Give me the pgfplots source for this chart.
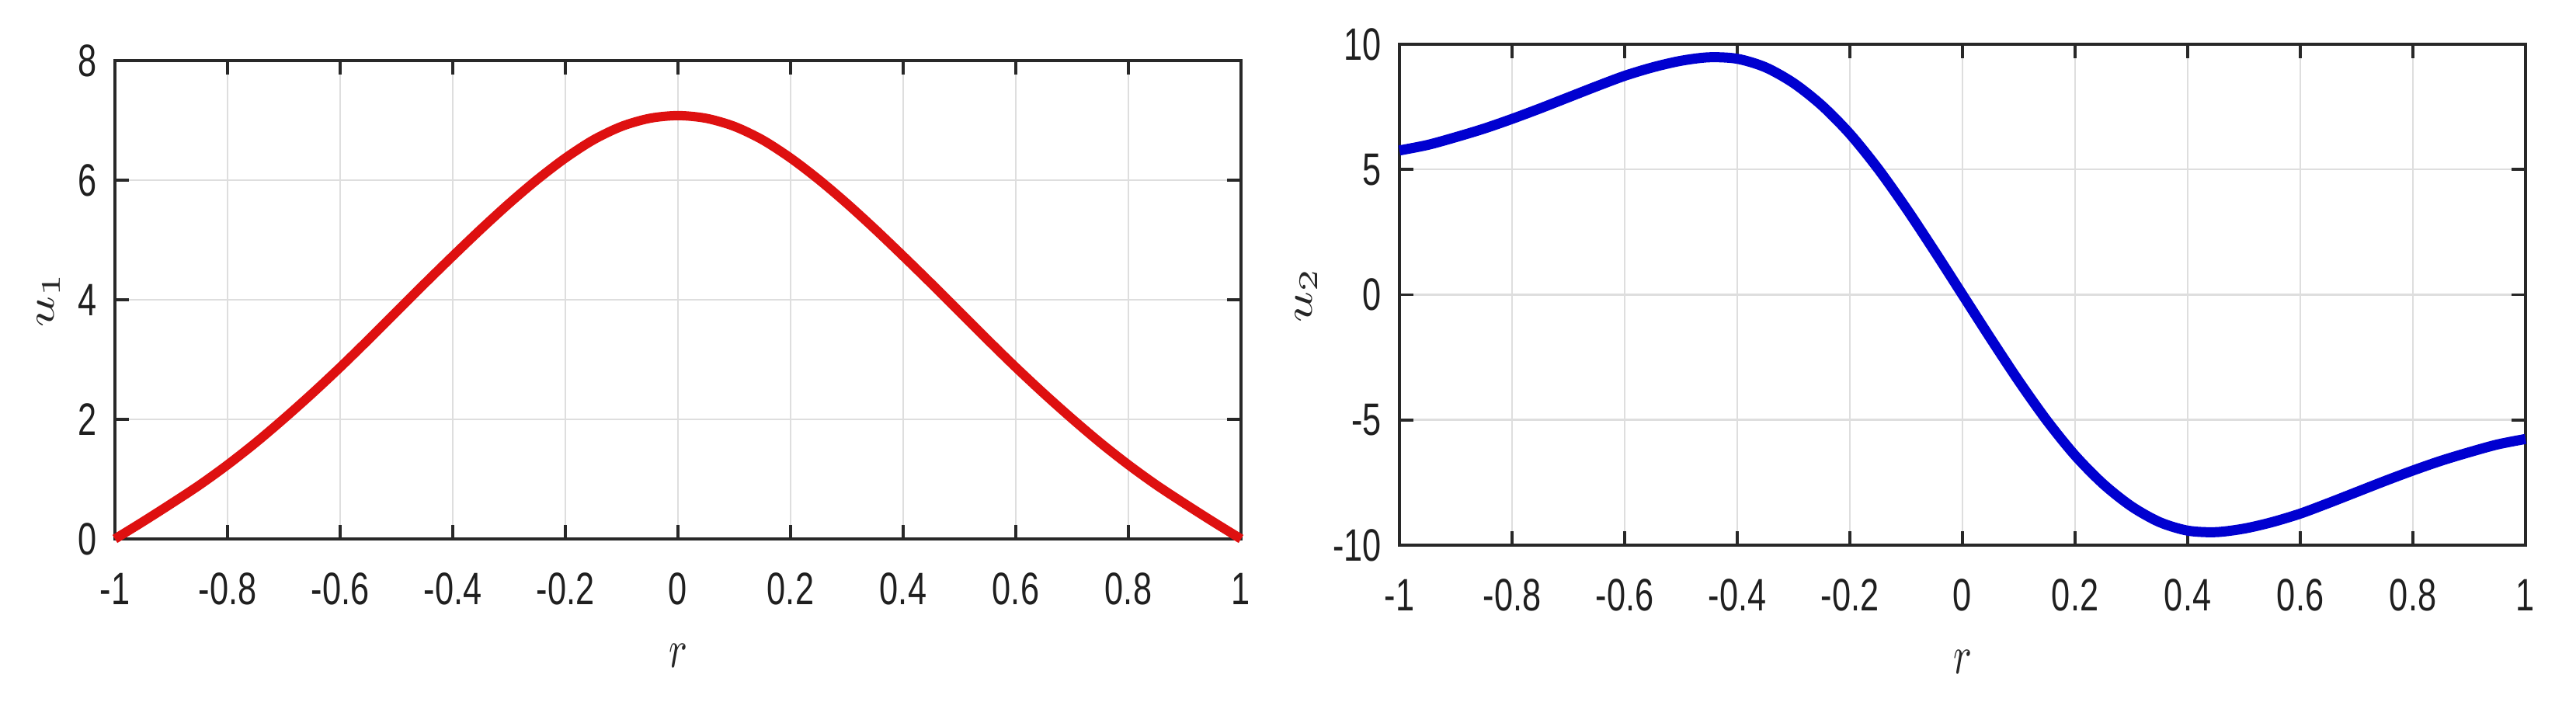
\documentclass[border=0pt]{standalone}
\usepackage{fontspec}
\usepackage{graphicx}
\usepackage{pgfplots}
\pgfplotsset{compat=1.18}
% tick numbers: Arial-like, stretched tall as in the reference
\newfontfamily\tickfont[FakeStretch=0.74]{Liberation Sans}
\definecolor{ured}{RGB}{222,16,16}
\definecolor{ublue}{RGB}{0,0,208}
\definecolor{axgray}{RGB}{40,40,40}

\pgfplotstableread{
x u1
-1.00 0.00
-0.95 0.29
-0.90 0.59
-0.85 0.90
-0.80 1.24
-0.75 1.61
-0.70 2.01
-0.65 2.43
-0.60 2.87
-0.55 3.33
-0.50 3.80
-0.45 4.27
-0.40 4.73
-0.35 5.18
-0.30 5.61
-0.25 6.01
-0.20 6.37
-0.15 6.675
-0.10 6.90
-0.05 7.035
 0.00 7.08
 0.05 7.035
 0.10 6.90
 0.15 6.675
 0.20 6.37
 0.25 6.01
 0.30 5.61
 0.35 5.18
 0.40 4.73
 0.45 4.27
 0.50 3.80
 0.55 3.33
 0.60 2.87
 0.65 2.43
 0.70 2.01
 0.75 1.61
 0.80 1.24
 0.85 0.90
 0.90 0.59
 0.95 0.29
 1.00 0.00
}\uone

\pgfplotstableread{
x u2
-1.00 5.76
-0.95 5.98
-0.90 6.29
-0.85 6.63
-0.80 7.02
-0.75 7.44
-0.70 7.88
-0.65 8.32
-0.60 8.74
-0.55 9.08
-0.50 9.34
-0.45 9.48
-0.40 9.42
-0.35 9.08
-0.30 8.45
-0.25 7.56
-0.20 6.42
-0.15 5.03
-0.10 3.45
-0.05 1.75
 0.00 0.00
 0.05 -1.75
 0.10 -3.45
 0.15 -5.03
 0.20 -6.42
 0.25 -7.56
 0.30 -8.45
 0.35 -9.08
 0.40 -9.42
 0.45 -9.48
 0.50 -9.34
 0.55 -9.08
 0.60 -8.74
 0.65 -8.32
 0.70 -7.88
 0.75 -7.44
 0.80 -7.02
 0.85 -6.63
 0.90 -6.29
 0.95 -5.98
 1.00 -5.76
}\utwo

\pgfplotsset{
  panel/.style={
    scale only axis, width=290bp, anchor=south west,
    xmin=-1, xmax=1,
    xtick={-1,-0.8,-0.6,-0.4,-0.2,0,0.2,0.4,0.6,0.8,1},
    scaled ticks=false,
    tick align=inside, major tick length=3.6bp,
    grid=major,
    major grid style={line width=0.5bp, color=black!13},
    axis line style={line width=0.75bp, color=axgray},
    every tick/.style={line width=0.75bp, color=axgray},
    /pgf/number format/assume math mode=true,
    tick label style={font=\tickfont\fontsize{11.7bp}{12bp}\selectfont, color=black!88},
    xticklabel style={anchor=north, inner sep=0pt, yshift=-8.6bp},
    yticklabel style={anchor=east, inner sep=0pt, xshift=-4.4bp},
    label style={font=\fontsize{9.6bp}{11bp}\selectfont, color=black!85},
    xlabel={\scalebox{1}[1.4]{$r$}},
    xlabel style={at={([yshift=-30bp]axis description cs:0.5,0)}, anchor=center},
    clip=false,
  },
}

\begin{document}
\begin{tikzpicture}
\path (0,0) rectangle (663.4bp,184.4bp);

\begin{axis}[panel,
  at={(29.6bp,45.6bp)}, height=123.2bp,
  ymin=0, ymax=8, ytick={0,2,4,6,8},
  ylabel={\scalebox{1.4}[1]{$u_1$}},
  ylabel style={at={([xshift=-17bp]axis description cs:0,0.5)}, anchor=center},
]
\addplot[ured, line width=2.4bp, smooth, tension=0.5, line join=round] table[x=x, y=u1] {\uone};
\end{axis}

\begin{axis}[panel,
  at={(360.4bp,44bp)}, height=129bp,
  ymin=-10, ymax=10, ytick={-10,-5,0,5,10},
  ylabel={\scalebox{1.4}[1]{$u_2$}},
  ylabel style={at={([xshift=-24bp]axis description cs:0,0.5)}, anchor=center},
]
\addplot[ublue, line width=2.6bp, smooth, tension=0.5, line join=round] table[x=x, y=u2] {\utwo};
\end{axis}
\end{tikzpicture}
\end{document}
